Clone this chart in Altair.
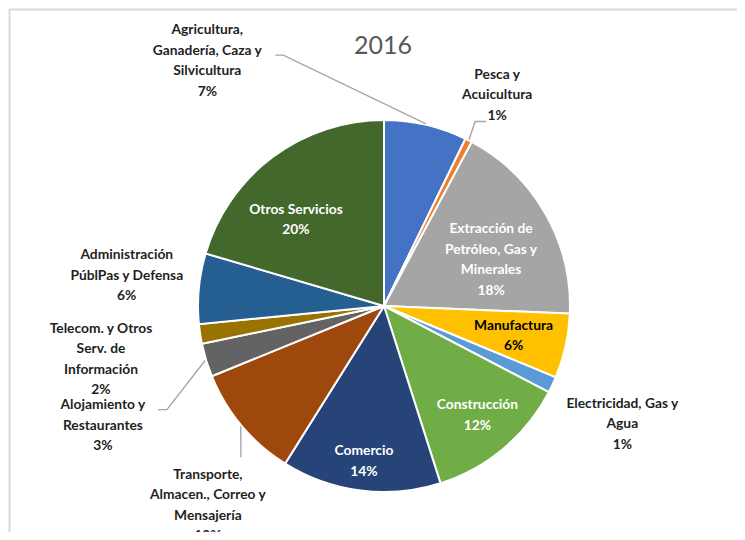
import math
import altair as alt
import pandas as pd

# ---------------- data ----------------
title_text = "2016"
categories = [
    "Agricultura, Ganadería, Caza y Silvicultura",
    "Pesca y Acuicultura",
    "Extracción de Petróleo, Gas y Minerales",
    "Manufactura",
    "Electricidad, Gas y Agua",
    "Construcción",
    "Comercio",
    "Transporte, Almacen., Correo y Mensajería",
    "Alojamiento y Restaurantes",
    "Telecom. y Otros Serv. de Información",
    "Administración PúblPas y Defensa",
    "Otros Servicios",
]
values = [7.2, 0.6, 17.8, 5.6, 1.4, 12.4, 13.8, 9.9, 2.9, 1.7, 6.1, 20.4]
label_lines = [
    ["Agricultura,", "Ganadería, Caza y", "Silvicultura"],
    ["Pesca y", "Acuicultura"],
    ["Extracción de", "Petróleo, Gas y", "Minerales"],
    ["Manufactura"],
    ["Electricidad, Gas y", "Agua"],
    ["Construcción"],
    ["Comercio"],
    ["Transporte,", "Almacen., Correo y", "Mensajería"],
    ["Alojamiento y", "Restaurantes"],
    ["Telecom. y Otros", "Serv. de", "Información"],
    ["Administración", "PúblPas y Defensa"],
    ["Otros Servicios"],
]
colors = ["#4472C4", "#ED7D31", "#A5A5A5", "#FFC000", "#5B9BD5", "#70AD47",
          "#264478", "#9E480E", "#636363", "#997300", "#255E91", "#43682B"]

# ---------------- layout ----------------
W, H = 729, 524
CX, CY, R = 376, 298, 186
LH = 20.5
label_radius = [302, 239, 116.5, 133, 266, 144, 157, 266, 305.5, 288, 259, 123]
label_shift_deg = [-48.8, 1.2, 6.5, 0.6, 1.3, -0.4, 0.1, -8.5, -6.1, -2.0, 1.3, -8.9]
label_color = ["#1F1F1F", "#1F1F1F", "#FFFFFF", "#000000", "#1F1F1F", "#FFFFFF",
               "#FFFFFF", "#1F1F1F", "#1F1F1F", "#1F1F1F", "#1F1F1F", "#FFFFFF"]
# leader line bend points, as offsets from the label centre
leaders = {
    0: [(76, -6), (68, -6)],
    1: [(-22, 26), (-11, 26)],
    7: [(33, -48)],
    8: [(64, -16), (55, -16)],
}

total = sum(values)
rows, line_rows = [], []
cum = 0.0
for i, (c, v) in enumerate(zip(categories, values)):
    mid = 2 * math.pi * (cum + v / 2) / total
    cum += v
    lt = mid + math.radians(label_shift_deg[i])
    lr = label_radius[i]
    lines = label_lines[i] + [f"{round(v):.0f}%"]
    bx = CX + lr * math.sin(lt)
    by = CY - lr * math.cos(lt)
    rows.append(dict(category=c, value=v, idx=i, label="\n".join(lines),
                     lx=bx, ly=by - (len(lines) - 1) * LH / 2, tcolor=label_color[i]))
    if i in leaders:
        pts = [(CX + (R + 1) * math.sin(mid), CY - (R + 1) * math.cos(mid))]
        pts += [(bx + dx, by + dy) for dx, dy in leaders[i]]
        for s, (px, py) in enumerate(pts):
            line_rows.append(dict(category=c, seq=s, px=px, py=py))

df = pd.DataFrame(rows)
ldf = pd.DataFrame(line_rows)

arcs = alt.Chart(df).mark_arc(outerRadius=R, stroke="white", strokeWidth=2).encode(
    theta=alt.Theta("value:Q", stack=True),
    color=alt.Color("category:N", scale=alt.Scale(domain=categories, range=colors), legend=None),
    order=alt.Order("idx:Q"),
    x=alt.value(CX),
    y=alt.value(CY),
)

labels = alt.Chart(df).mark_text(
    font="Lato", fontWeight="bold", fontSize=13.8, lineBreak="\n", lineHeight=LH,
    align="center", baseline="middle",
).encode(
    x=alt.X("lx:Q", scale=None, axis=None),
    y=alt.Y("ly:Q", scale=None, axis=None),
    text="label:N",
    color=alt.Color("tcolor:N", scale=None),
)

leader_lines = alt.Chart(ldf).mark_line(color="#A6A6A6", strokeWidth=1.4).encode(
    x=alt.X("px:Q", scale=None, axis=None),
    y=alt.Y("py:Q", scale=None, axis=None),
    detail="category:N",
    order="seq:Q",
)

tdf = pd.DataFrame({"t": [title_text]})
title = alt.Chart(tdf).mark_text(font="Lato", fontSize=25, color="#595959",
                                 align="center", baseline="middle").encode(
    text="t:N", x=alt.value(375), y=alt.value(38))

frame_top = alt.Chart(tdf).mark_rule(color="#D9D9D9", strokeWidth=2).encode(
    x=alt.value(1), x2=alt.value(W), y=alt.value(1.5))
frame_left = alt.Chart(tdf).mark_rule(color="#D9D9D9", strokeWidth=2).encode(
    x=alt.value(1.5), y=alt.value(1), y2=alt.value(H))

chart = alt.layer(frame_top, frame_left, arcs, leader_lines, labels, title).properties(
    width=W, height=H, padding=0, autosize=alt.AutoSizeParams(type="none"),
    background="white",
).configure_view(strokeWidth=0)

chart.save("out.html", embed_options={"renderer": "svg", "actions": False})
